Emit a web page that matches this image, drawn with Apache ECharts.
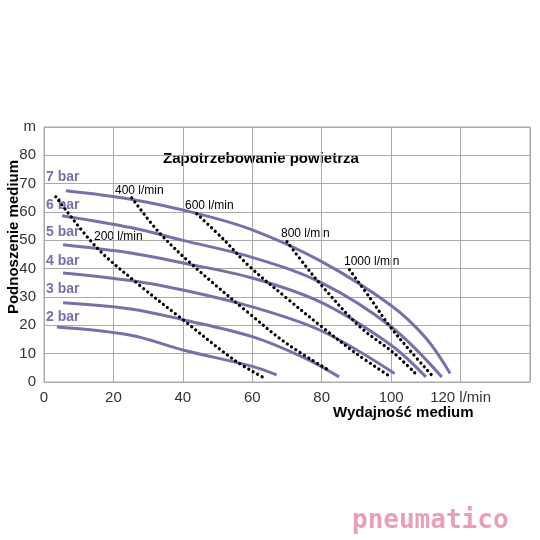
<!DOCTYPE html><html><head><meta charset="utf-8"><script src="https://cdn.jsdelivr.net/npm/echarts@6/dist/echarts.min.js"></script></head><body style="margin:0;background:#fff"><div id="c" style="width:540px;height:540px"></div><script>
const bar7=[[6.3,67.5],[25,64.5],[44,59.5],[60,53.7],[80,42.5],[100,27],[110,15.5],[117,3]];
const bar6=[[5.2,58.7],[25,54.5],[40,50],[60,44],[80,35],[100,19.5],[114.6,1.8]];
const bar5=[[5.5,48.4],[25,45.5],[40,42],[60,36.7],[80,28],[100,13],[110,1.8]];
const bar4=[[5.5,38.5],[25,35.8],[40,32.5],[60,26.5],[80,18],[101,3]];
const bar3=[[5.5,28],[25,25.8],[40,22],[60,16],[75,8.5],[85,1.8]];
const bar2=[[3.7,19.4],[25,16.5],[40,11.3],[60,5.5],[67,2.5]];
const a200=[[3.4,65.4],[15,47.7],[26.7,35],[40,22],[55,7.6],[63.5,1.4]];
const a400=[[25.3,65],[33,53],[42.8,41.3],[59,24.3],[70,13.5],[82,4.2]];
const a600=[[44,59.4],[52,50],[59,41],[70,29.5],[80,19.5],[90,10],[99,2.5]];
const a800=[[70,49.5],[75,41.5],[80,34],[91,19.5],[101,10],[107,3]];
const a1000=[[88,39.6],[94,29.5],[99.4,20],[105.5,11],[112,2]];
const barNames=['7 bar','6 bar','5 bar','4 bar','3 bar','2 bar'];
const airNames=['200 l/min','400 l/min','600 l/min','800 l/min','1000 l/min'];
const xTicks={0:'0',20:'20',40:'40',60:'60',80:'80',100:'100',120:'120 l/min',140:''};
const c=echarts.init(document.getElementById('c'));
const purple='#7671a9';
const bars=[bar7,bar6,bar5,bar4,bar3,bar2].map((d,i)=>({type:'line',name:barNames[i],data:d,smooth:0.35,symbol:'none',lineStyle:{color:purple,width:3},z:2}));
const airs=[a200,a400,a600,a800,a1000].map((d,i)=>({type:'line',name:airNames[i],data:d,smooth:0.35,symbol:'none',lineStyle:{color:'#000',width:3.2,type:[0.1,5],cap:'round'},z:3}));
const T=(x,y,t,o)=>Object.assign({type:'text',left:x,top:y,style:Object.assign({text:t,fill:'#000',font:'12px Liberation Sans'},o||{})});
const B='bold 14px Liberation Sans';
c.setOption({animation:false,
grid:{left:44,right:10,top:127,bottom:158},
xAxis:{type:'value',min:0,max:140,interval:20,axisLine:{show:false},axisTick:{show:false},
 splitLine:{lineStyle:{color:'#aaa',width:1}},axisLabel:{color:'#333',fontSize:15,fontFamily:'Liberation Sans',margin:8,formatter:v=>xTicks[v]}},
yAxis:{type:'value',min:0,max:90,interval:10,axisLine:{show:false},axisTick:{show:false},
 splitLine:{lineStyle:{color:'#aaa',width:1}},axisLabel:{color:'#333',fontSize:15,fontFamily:'Liberation Sans',margin:8,formatter:v=>v===90?'m':v}},
series:bars.concat(airs),
graphic:[
 {type:'rect',shape:{x:44,y:127,width:486,height:255},style:{fill:'none',stroke:'#aaa'},silent:true},
 T(163,151,'Zapotrzebowanie powietrza',{font:'bold 15px Liberation Sans'}),
 T(115,185,'400 l/min'),T(185,200,'600 l/min'),T(94,231,'200 l/min'),T(281,228,'800 l/min'),T(344,256,'1000 l/min'),
 T(46,170,'7 bar',{font:B,fill:purple}),
 T(46,198,'6 bar',{font:B,fill:purple}),
 T(46,225,'5 bar',{font:B,fill:purple}),
 T(46,254,'4 bar',{font:B,fill:purple}),
 T(46,282,'3 bar',{font:B,fill:purple}),
 T(46,310,'2 bar',{font:B,fill:purple}),
 T(333,405,'Wydajność medium',{font:'bold 15px Liberation Sans'}),
 {type:'text',x:6,y:237,rotation:Math.PI/2,style:{text:'Podnoszenie medium',font:'bold 15px Liberation Sans',fill:'#000',align:'center'}},
 T(352,508,'pneumatico',{font:'bold 26px DejaVu Sans Mono',fill:'#e8a0b8'})
]});
</script></body></html>
